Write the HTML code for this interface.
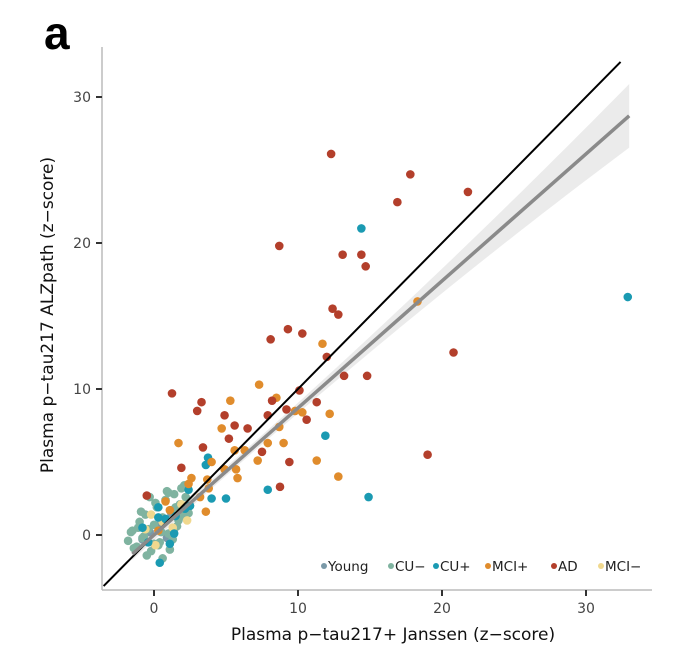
<!DOCTYPE html>
<html><head><meta charset="utf-8"><style>
body{margin:0;background:#fff;}
svg{display:block;font-family:"DejaVu Sans","Liberation Sans",sans-serif;}
.panel{font-family:"Liberation Sans",Arial,sans-serif;font-weight:bold;}
</style></head><body>
<svg id="chart" width="676" height="650" viewBox="0 0 676 650">
<text class="panel" x="44" y="49" font-size="46" fill="#000">a</text>
<g id="plot"></g>
<text x="393" y="640" text-anchor="middle" font-size="17" fill="#111">Plasma  p−tau217+ Janssen (z−score)</text>
<text transform="translate(53,315) rotate(-90)" text-anchor="middle" font-size="17" fill="#111">Plasma  p−tau217  ALZpath (z−score)</text>
</svg>
<script>
const xTicks=[0,10,20,30];
const yTicks=[0,10,20,30];
const groups=["Young","CU−","CU+","MCI+","AD","MCI−"];
const groupColors=["#7a99a8","#7fb3a0","#1a9ab2","#e08c2c","#b33f2b","#f0d88e"];
const cuNegX=[-1.8,-1.5,-1.2,-1,-0.8,-0.6,-0.4,-0.2,0,0.2,0.4,0.6,0.8,1,1.2,1.4,1.6,1.8,2,2.2,-1.4,-0.9,-0.5,0.1,0.5,0.9,1.3,1.7,2.1,2.5,-1.1,-0.3,0.3,0.7,1.1,1.5,1.9,-0.7,0.6,1.4,-1.6,2.4,0.0,1.0];
const cuNegY=[-0.4,0.3,-0.8,0.9,-0.2,1.4,0.4,-1.1,0.7,1.9,-0.5,1.2,2.4,0.1,1.7,2.8,0.6,2.1,1.3,2.6,-0.9,1.6,-1.4,2.2,0.2,3.0,-0.3,1.0,3.4,2.0,0.5,2.6,-0.7,0.9,-1.0,1.9,3.2,-0.1,-1.6,0.4,0.2,1.5,-0.6,2.9];
const cuPosX=[14.4,32.9,11.9,14.9,3.75,7.9,5.0,4.0,2.4,2.5,0.4,-0.8,0.3,0.8,1.4,2.15,1.5,-0.4,1.1,0.3,3.6];
const cuPosY=[21.0,16.3,6.8,2.6,5.3,3.1,2.5,2.5,3.1,2.0,-1.9,0.5,1.2,1.1,0.1,1.8,1.3,-0.5,-0.6,1.9,4.8];
const mciPosX=[7.3,11.7,5.3,1.7,4.7,8.5,8.7,10.3,12.2,9.8,7.9,9.0,11.3,12.8,5.8,5.6,6.3,4.0,4.9,3.7,2.6,3.8,3.2,3.6,2.4,0.8,1.1,7.2,5.7,0.3,18.3];
const mciPosY=[10.3,13.1,9.2,6.3,7.3,9.4,7.4,8.4,8.3,8.5,6.3,6.3,5.1,4.0,3.9,5.8,5.8,5.0,4.5,3.8,3.9,3.2,2.6,1.6,3.5,2.3,1.7,5.1,4.5,0.3,16.0];
const adX=[12.3,17.8,21.8,16.9,14.4,14.7,13.1,8.7,12.4,12.8,9.3,10.3,8.1,20.8,12.0,13.2,14.8,1.25,3.3,3.0,4.9,10.1,11.3,10.6,7.9,9.2,8.2,5.6,5.2,6.5,7.5,9.4,3.4,19.0,8.75,-0.5,1.9];
const adY=[26.1,24.7,23.5,22.8,19.2,18.4,19.2,19.8,15.5,15.1,14.1,13.8,13.4,12.5,12.2,10.9,10.9,9.7,9.1,8.5,8.2,9.9,9.1,7.9,8.2,8.6,9.2,7.5,6.6,7.3,5.7,5.0,6.0,5.5,3.3,2.7,4.6];
const youngX=[-0.3,0.5,1.2,-0.8,0.9];
const youngY=[0.2,0.8,1.5,-0.3,-0.2];
const mciNegX=[-0.2,0.6,1.3,1.9,0.1,2.3,-0.6];
const mciNegY=[1.4,0.9,0.5,2.1,-0.7,1.0,0.4];
const fitX=[-1.5,33];
const fitSlope=0.87, fitIntercept=0.0;

const X0=154, XS=14.4, Y0=535, YS=14.6;
const sx=v=>X0+v*XS, sy=v=>Y0-v*YS;
const NS="http://www.w3.org/2000/svg";
const plot=document.getElementById('plot');
function mk(tag,attrs,parent){const e=document.createElementNS(NS,tag);for(const k in attrs)e.setAttribute(k,attrs[k]);(parent||plot).appendChild(e);return e;}

let ax=mk('line',{x1:102,y1:47,x2:102,y2:590,stroke:'#bbb','stroke-width':1.5});


ax=mk('line',{x1:102,y1:590,x2:652,y2:590,stroke:'#bbb','stroke-width':1.5});


xTicks.forEach(t=>{
  const tk=mk('line',{x1:sx(t),y1:590,x2:sx(t),y2:596,stroke:'#333','stroke-width':2});
  
  
  const tl=mk('text',{x:sx(t),y:613,'text-anchor':'middle','font-size':14,fill:'#444'});
  tl.textContent=t;
  
  
});
yTicks.forEach(t=>{
  const tk=mk('line',{x1:96,y1:sy(t),x2:102,y2:sy(t),stroke:'#333','stroke-width':2});
  
  
  const tl=mk('text',{x:91,y:sy(t)+5,'text-anchor':'end','font-size':14,fill:'#444'});
  tl.textContent=t;
  
  
});

const xm=5;
function hw(x){return 0.3+0.0024*(x-xm)*(x-xm);}
let up=[],lo=[];
for(let i=0;i<=40;i++){const x=fitX[0]+(fitX[1]-fitX[0])*i/40;const y=fitIntercept+fitSlope*x;up.push(sx(x)+','+sy(y+hw(x)));lo.unshift(sx(x)+','+sy(y-hw(x)));}
const band=mk('polygon',{points:up.concat(lo).join(' '),fill:'#e4e4e4',opacity:0.75});



const series=[[youngX,youngY,0],[cuNegX,cuNegY,1],[mciNegX,mciNegY,5],[cuPosX,cuPosY,2],[mciPosX,mciPosY,3],[adX,adY,4]];
series.forEach(([xs,ys,g])=>{
  xs.forEach((x,i)=>{
    const c=mk('circle',{cx:sx(x),cy:sy(ys[i]),r:4.3,fill:groupColors[g]});
    
    
  });
});

const id=mk('line',{x1:sx(-3.5),y1:sy(-3.5),x2:sx(32.4),y2:sy(32.4),stroke:'#000','stroke-width':2});


const fl=mk('line',{x1:sx(fitX[0]),y1:sy(fitIntercept+fitSlope*fitX[0]),x2:sx(fitX[1]),y2:sy(fitIntercept+fitSlope*fitX[1]),stroke:'#8a8a8a','stroke-width':3.5});



const legX=[324,391,436,488,554,601];
groups.forEach((g,i)=>{
  const c=mk('circle',{cx:legX[i],cy:566,r:3,fill:groupColors[i]});
  
  
  const t=mk('text',{x:legX[i]+4,y:571,'font-size':13.5,fill:'#222'});
  t.textContent=g;
  
  
});
</script>
</body></html>
